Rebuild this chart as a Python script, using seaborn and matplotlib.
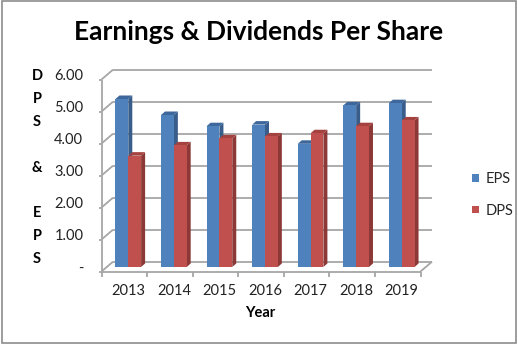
import matplotlib
matplotlib.use("Agg")
import matplotlib.pyplot as plt
from matplotlib.patches import Polygon, Rectangle
import pandas as pd
import seaborn as sns

# ---- data -------------------------------------------------------------
years = ["2013", "2014", "2015", "2016", "2017", "2018", "2019"]
eps = [5.25, 4.75, 4.40, 4.45, 3.85, 5.05, 5.12]
dps = [3.48, 3.80, 4.02, 4.08, 4.18, 4.40, 4.58]
series_names = ["EPS", "DPS"]
y_ticks = [0, 1, 2, 3, 4, 5, 6]
y_tick_labels = ["-", "1.00", "2.00", "3.00", "4.00", "5.00", "6.00"]

# ---- styling ----------------------------------------------------------
front_colors = ["#4f81bd", "#c0504d"]
side_colors = ["#385d8a", "#8c3836"]
top_colors = ["#3e679c", "#a3423f"]
grid_color = "#a6a6a6"

df = pd.DataFrame({
    "Year": years * 2,
    "Value": eps + dps,
    "Series": [series_names[0]] * len(years) + [series_names[1]] * len(years),
})

sns.set_theme(style="white")
plt.rcParams["font.family"] = ["Lato", "DejaVu Sans"]

W, H = 518, 345
fig = plt.figure(figsize=(W / 100, H / 100), dpi=100)
fig.patch.set_facecolor("white")
ax = fig.add_axes([105.5 / W, 1 - 267 / H, 319 / W, 192 / H])

sns.barplot(data=df, x="Year", y="Value", hue="Series", hue_order=series_names,
            palette=front_colors, width=0.563, gap=0, saturation=1,
            edgecolor="none", linewidth=0, ax=ax, zorder=3)

ax.set_xlim(-0.5, len(years) - 0.5)
ax.set_ylim(0, 6)
for s in ax.spines.values():
    s.set_visible(False)
ax.set_facecolor("none")

# pixel -> data conversion for the pseudo-3D depth
px_x = len(years) / 319.0
px_y = 6.0 / 192.0
fx, fy = -4.0 * px_x, -4.5 * px_y      # front plane offset
bx, by = 7.5 * px_x, 5.3 * px_y        # back wall offset
x_lo, x_hi = -0.5, len(years) - 0.5
line_kw = dict(color=grid_color, lw=1.3, clip_on=False, solid_capstyle="butt")

# back wall gridlines and left wall connectors
for v in y_ticks:
    ax.plot([x_lo + bx, x_hi + bx], [v + by, v + by], zorder=1, **line_kw)
    ax.plot([x_lo + fx, x_lo + bx], [v + fy, v + by], zorder=1, **line_kw)
    ax.plot([x_lo + fx - 3 * px_x, x_lo + fx], [v + fy, v + fy], zorder=1, **line_kw)
# front vertical axis line
ax.plot([x_lo + fx, x_lo + fx], [fy, 6 + fy], zorder=1, **line_kw)
# floor front edge, right edge and category ticks
ax.plot([x_lo + fx, x_hi + fx], [fy, fy], zorder=4, **line_kw)
ax.plot([x_hi + fx, x_hi + bx], [fy, by], zorder=4, **line_kw)
for k in range(len(years) + 1):
    xb = k - 0.5 + fx
    ax.plot([xb, xb], [fy, fy - 5 * px_y], zorder=4, **line_kw)

# side and top faces of each bar
ddx, ddy = 4.0 * px_x, 3.5 * px_y
for i, cont in enumerate(ax.containers):
    for p in cont.patches:
        x0, w, h = p.get_x(), p.get_width(), p.get_height()
        side = Polygon([(x0 + w, 0), (x0 + w + ddx, ddy), (x0 + w + ddx, h + ddy), (x0 + w, h)],
                       closed=True, facecolor=side_colors[i], edgecolor="none",
                       zorder=2.5, clip_on=False)
        top = Polygon([(x0, h), (x0 + ddx, h + ddy), (x0 + w + ddx, h + ddy), (x0 + w, h)],
                      closed=True, facecolor=top_colors[i], edgecolor="none",
                      zorder=2.6, clip_on=False)
        ax.add_patch(side)
        ax.add_patch(top)

# ticks and labels
ax.set_yticks(y_ticks)
ax.set_yticklabels(y_tick_labels)
ax.tick_params(axis="y", length=0, pad=16, labelsize=10.5, labelcolor="#222222")
ax.tick_params(axis="x", length=0, pad=12, labelsize=10.5, labelcolor="#222222")

ax.set_xlabel("Year", fontsize=10.5, fontweight="bold", color="black")
ax.xaxis.set_label_coords(0.484, -0.205)
ax.set_ylabel("D\nP\nS\n\n&\n\nE\nP\nS", fontsize=10.5, fontweight="bold", color="black",
              rotation=0, va="center", ha="center", multialignment="center", linespacing=1.8)
ax.yaxis.set_label_coords(-0.2147, 0.518)

handles, labels = ax.get_legend_handles_labels()
ax.legend(handles, labels, loc="center left", bbox_to_anchor=(459 / W, 1 - 195 / H),
          bbox_transform=fig.transFigure, frameon=False, fontsize=10.5,
          handlelength=0.45, handleheight=0.45, handletextpad=0.5, labelspacing=1.2)

fig.text(259 / W, 1 - 32 / H, "Earnings & Dividends Per Share", ha="center", va="center",
         fontsize=19, fontweight="bold", color="black")

fig.add_artist(Rectangle((1.5 / W, 2 / H), 514.5 / W, 342 / H, transform=fig.transFigure,
                         fill=False, edgecolor="#8c8c8c", lw=1.2))

fig.savefig("out.png", dpi=100)
